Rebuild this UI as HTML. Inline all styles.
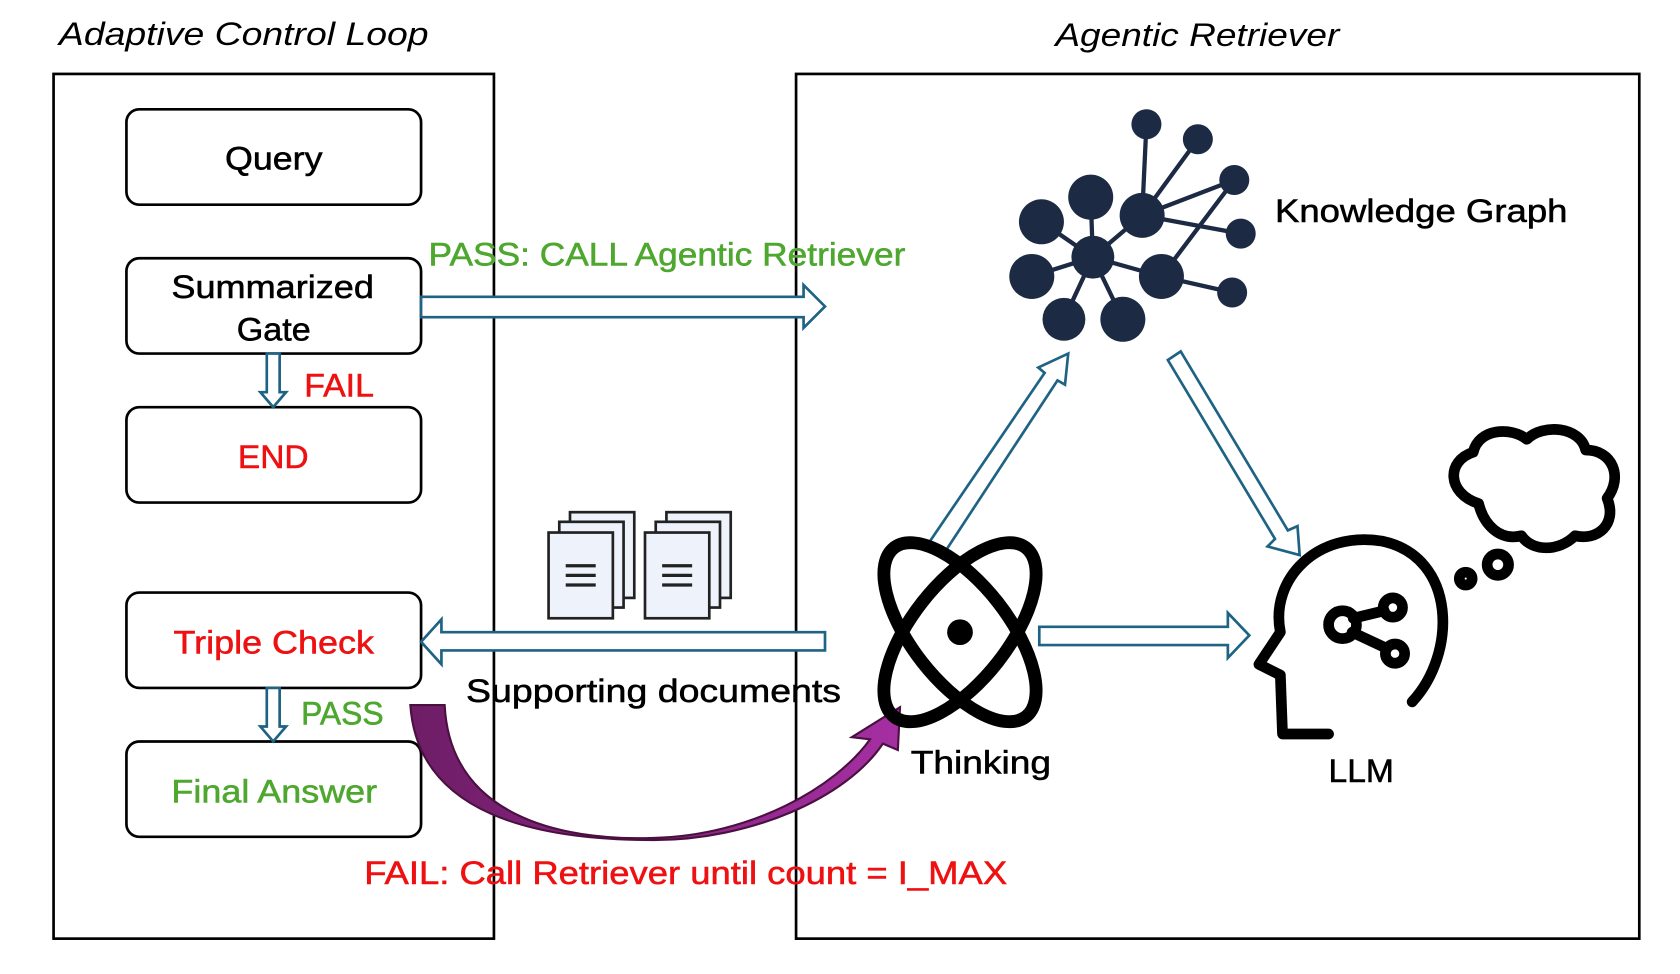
<!DOCTYPE html>
<html><head><meta charset="utf-8"><style>
html,body{margin:0;padding:0;background:#fff;width:1680px;height:974px;overflow:hidden}
svg{display:block}
text{font-family:"Liberation Sans",sans-serif;stroke-width:0.5}
</style></head><body>
<svg width="1680" height="974" viewBox="0 0 1568 909" preserveAspectRatio="none" xmlns="http://www.w3.org/2000/svg">
<defs>
<linearGradient id="pg" x1="0" y1="0" x2="1" y2="0"><stop offset="0" stop-color="#6e1d66"/><stop offset="1" stop-color="#a52fa2"/></linearGradient>
</defs>
<text x="55" y="42" font-size="30" font-style="italic" textLength="345" lengthAdjust="spacingAndGlyphs">Adaptive Control Loop</text>
<text x="985" y="43" font-size="30" font-style="italic" textLength="265" lengthAdjust="spacingAndGlyphs">Agentic Retriever</text>
<rect x="50" y="69" width="411" height="807" fill="none" stroke="#000" stroke-width="2.5"/>
<rect x="743" y="69" width="787" height="807" fill="none" stroke="#000" stroke-width="2.5"/>
<g fill="#fff" stroke="#000" stroke-width="2.5">
<rect x="118" y="102" width="275" height="89" rx="12"/>
<rect x="118" y="241" width="275" height="89" rx="12"/>
<rect x="118" y="380" width="275" height="89" rx="12"/>
<rect x="118" y="553" width="275" height="89" rx="12"/>
<rect x="118" y="692" width="275" height="89" rx="12"/>
</g>
<g font-size="30" lengthAdjust="spacingAndGlyphs">
<text x="210" y="158" stroke="#000" textLength="91" lengthAdjust="spacingAndGlyphs">Query</text>
<text x="160" y="278" stroke="#000" textLength="189" lengthAdjust="spacingAndGlyphs">Summarized</text>
<text x="221" y="318" stroke="#000" textLength="69" lengthAdjust="spacingAndGlyphs">Gate</text>
<text x="222" y="437" fill="#ee1111" stroke="#ee1111" textLength="66" lengthAdjust="spacingAndGlyphs">END</text>
<text x="162" y="610" fill="#ee1111" stroke="#ee1111" textLength="187" lengthAdjust="spacingAndGlyphs">Triple Check</text>
<text x="160" y="749" fill="#4ea72e" stroke="#4ea72e" textLength="192" lengthAdjust="spacingAndGlyphs">Final Answer</text>
</g>
<g fill="#fff" stroke="#1f6384" stroke-width="2.5">
<path d="M393,277 H750 V266 L770,286 L750,306 V296 H393 Z"/>
<path d="M249,330 V366 H243 L255,380 L267,366 H261 V330 Z"/>
<path d="M249,642 V678 H243 L255,692 L267,678 H261 V642 Z"/>
<path d="M770,590 H412 V578 L393,599 L412,620 V607 H770 Z"/>
<path d="M970,585 H1146 V572 L1166,593 L1146,614 V602 H970 Z"/>
<path d="M868,505 L975,348 L969,343 L997,330 L994,359 L987,355 L882,515 Z"/>
<path d="M1090,336 L1102,328 L1202,495 L1211,491 L1213,518 L1183,510 L1190,503 Z"/>
</g>
<path d="M383,658 H415 C420,760 520,785 610,782 C700,780 780,735 812,690 L795,688 L840,660 L838,700 L824,694 C790,745 700,784 610,784 C500,784 390,760 383,658 Z" fill="url(#pg)" stroke="#4a1040" stroke-width="2"/>
<g font-size="30">
<text x="400" y="248" fill="#4ea72e" stroke="#4ea72e" textLength="445" lengthAdjust="spacingAndGlyphs">PASS: CALL Agentic Retriever</text>
<text x="284" y="370" fill="#ee1111" stroke="#ee1111" textLength="65" lengthAdjust="spacingAndGlyphs">FAIL</text>
<text x="281" y="676" fill="#4ea72e" stroke="#4ea72e" textLength="77" lengthAdjust="spacingAndGlyphs">PASS</text>
<text x="435" y="655" stroke="#000" textLength="350" lengthAdjust="spacingAndGlyphs">Supporting documents</text>
<text x="340" y="825" fill="#ee1111" stroke="#ee1111" textLength="600" lengthAdjust="spacingAndGlyphs">FAIL: Call Retriever until count = I_MAX</text>
<text x="1190" y="207" stroke="#000" textLength="273" lengthAdjust="spacingAndGlyphs">Knowledge Graph</text>
<text x="850" y="722" stroke="#000" textLength="131" lengthAdjust="spacingAndGlyphs">Thinking</text>
<text x="1240" y="730" stroke="#000" textLength="61" lengthAdjust="spacingAndGlyphs">LLM</text>
</g>
<g fill="#eef2fb" stroke="#222" stroke-width="2.5">
<rect x="532" y="478" width="60" height="80"/><rect x="522" y="487" width="60" height="80"/><rect x="512" y="497" width="60" height="80"/>
<rect x="622" y="478" width="60" height="80"/><rect x="612" y="487" width="60" height="80"/><rect x="602" y="497" width="60" height="80"/>
</g>
<g stroke="#222" stroke-width="3"><path d="M528,528h28M528,537h28M528,546h28M618,528h28M618,537h28M618,546h28"/></g>
<g stroke="#1c2a44" stroke-width="4">
<path d="M1020,240L1018,184M1020,240L972,207M1020,240L963,258M1020,240L993,298M1020,240L1048,298M1020,240L1084,258M1020,240L1066,201M1066,201L1070,116M1066,201L1118,130M1066,201L1152,168M1066,201L1158,218M1084,258L1150,273M1084,258L1152,168"/>
</g>
<g fill="#1c2a44">
<circle cx="1020" cy="240" r="20"/><circle cx="1018" cy="184" r="21"/><circle cx="972" cy="207" r="21"/><circle cx="963" cy="258" r="21"/><circle cx="993" cy="298" r="20"/><circle cx="1048" cy="298" r="21"/><circle cx="1084" cy="258" r="21"/><circle cx="1066" cy="201" r="21"/>
<circle cx="1070" cy="116" r="14"/><circle cx="1118" cy="130" r="14"/><circle cx="1152" cy="168" r="14"/><circle cx="1158" cy="218" r="14"/><circle cx="1150" cy="273" r="14"/>
</g>
<g fill="none" stroke="#000" stroke-width="12">
<ellipse cx="896" cy="590" rx="100" ry="45" transform="rotate(52 896 590)"/>
<ellipse cx="896" cy="590" rx="100" ry="45" transform="rotate(-52 896 590)"/>
</g>
<circle cx="896" cy="590" r="12"/>
<g fill="none" stroke="#000" stroke-width="10" stroke-linecap="round" stroke-linejoin="round">
<path d="M1318,655 C1360,610 1360,520 1290,505 C1230,495 1185,540 1195,590 L1175,620 L1195,630 L1197,685 H1240"/>
<circle cx="1253" cy="583" r="13"/><circle cx="1300" cy="567" r="9"/><circle cx="1302" cy="610" r="9"/>
<path d="M1263,577L1292,570M1262,590L1294,605"/>
<circle cx="1368" cy="540" r="6"/><circle cx="1398" cy="527" r="10"/>
<path d="M1380,470 C1350,460 1350,430 1375,422 C1380,400 1410,398 1425,410 C1440,395 1475,398 1480,420 C1505,420 1515,445 1500,465 C1510,490 1490,505 1470,500 C1455,515 1430,515 1420,500 C1400,505 1385,490 1380,470 Z"/>
</g>
</svg>
</body></html>
